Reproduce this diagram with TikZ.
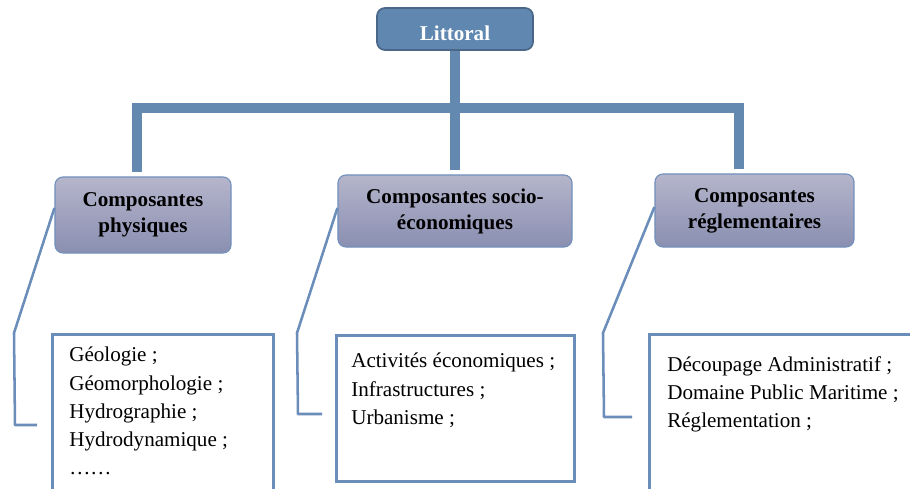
\documentclass[tikz,border=0pt]{standalone}
\usepackage{fontspec}
\setmainfont{Liberation Serif}
\definecolor{trunkblue}{HTML}{6489B1}
\definecolor{headfill}{HTML}{5F87B0}
\definecolor{headline}{HTML}{4A6688}
\definecolor{cattop}{HTML}{B5B5CB}
\definecolor{catbot}{HTML}{8A8FB1}
\definecolor{catline}{HTML}{7290BC}
\definecolor{boxline}{HTML}{6A8DBA}
\begin{document}
\begin{tikzpicture}[x=0.025cm, y=-0.025cm,
  head/.style={draw=headline, line width=1.2pt, fill=headfill, rounded corners=0.2cm,
    minimum width=3.9cm, minimum height=1.05cm, inner sep=0pt},
  cat/.style={draw=catline, line width=0.8pt, top color=cattop, bottom color=catbot,
    rounded corners=0.2cm, inner sep=0pt, align=center,
    font=\bfseries\fontsize{15}{18.5}\selectfont},
  detail/.style={draw=boxline, line width=1.8pt, fill=white, inner sep=0pt},
  items/.style={anchor=north west, align=left, inner sep=0pt,
    font=\fontsize{15}{20}\selectfont},
  trunk/.style={line width=0.25cm, draw=trunkblue, line join=miter},
  callout/.style={line width=1.8pt, draw=boxline, line join=round}]
%page
\clip (0,0) rectangle (910,488);
\fill[white] (0,0) rectangle (910,488);

%boxes
\node[head] (top) at (455,29) {};
\node[font=\bfseries\fontsize{15}{18}\selectfont, text=white, inner sep=0pt] (toplabel) at (455,33) {Littoral};
\node[cat, minimum width=4.4cm, minimum height=1.9cm] (phys) at (143,215) {Composantes\\physiques};
\node[cat, minimum width=5.85cm, minimum height=1.8cm] (socio) at (455,211) {Composantes socio-\\économiques};
\node[cat, minimum width=4.975cm, minimum height=1.825cm] (regl) at (754.5,210.5) {Composantes\\réglementaires};

\node[detail, anchor=north west, minimum width=5.525cm, minimum height=4.5cm] (physbox) at (51,333) {};
\node[detail, anchor=north west, minimum width=5.95cm, minimum height=3.65cm] (sociobox) at (335,334) {};
\node[detail, anchor=north west, minimum width=7.5cm, minimum height=4.5cm] (reglbox) at (648,333) {};

\node[items] (physlist) at (69,347) {Géologie ;\\Géomorphologie ;\\Hydrographie ;\\Hydrodynamique ;\\\dots\dots};
\node[items] (sociolist) at (351,353) {Activités économiques ;\\Infrastructures ;\\Urbanisme ;};
\node[items] (regllist) at (667,356) {Découpage Administratif ;\\Domaine Public Maritime ;\\Réglementation ;};

%tree
\coordinate (bl) at (137,107.5);
\coordinate (br) at (739,107.5);
\draw[trunk] (top.south) -- ([yshift=3pt]socio.north);
\draw[trunk] ([yshift=3pt]phys.north -| bl) -- (bl) -- (br) -- ([yshift=3pt]regl.north -| br);

%callouts
\coordinate (physend) at (37,425);
\coordinate (socioend) at (322,414);
\coordinate (reglend) at (632,417);
\draw[callout] (phys.west |- 0,208) -- (14,333) -- (15,425) -- (physend);
\draw[callout] (socio.west |- 0,208) -- (297,333) -- (298,414) -- (socioend);
\draw[callout] (regl.west |- 0,207) -- (603,333) -- (604,417) -- (reglend);
\end{tikzpicture}
\end{document}
